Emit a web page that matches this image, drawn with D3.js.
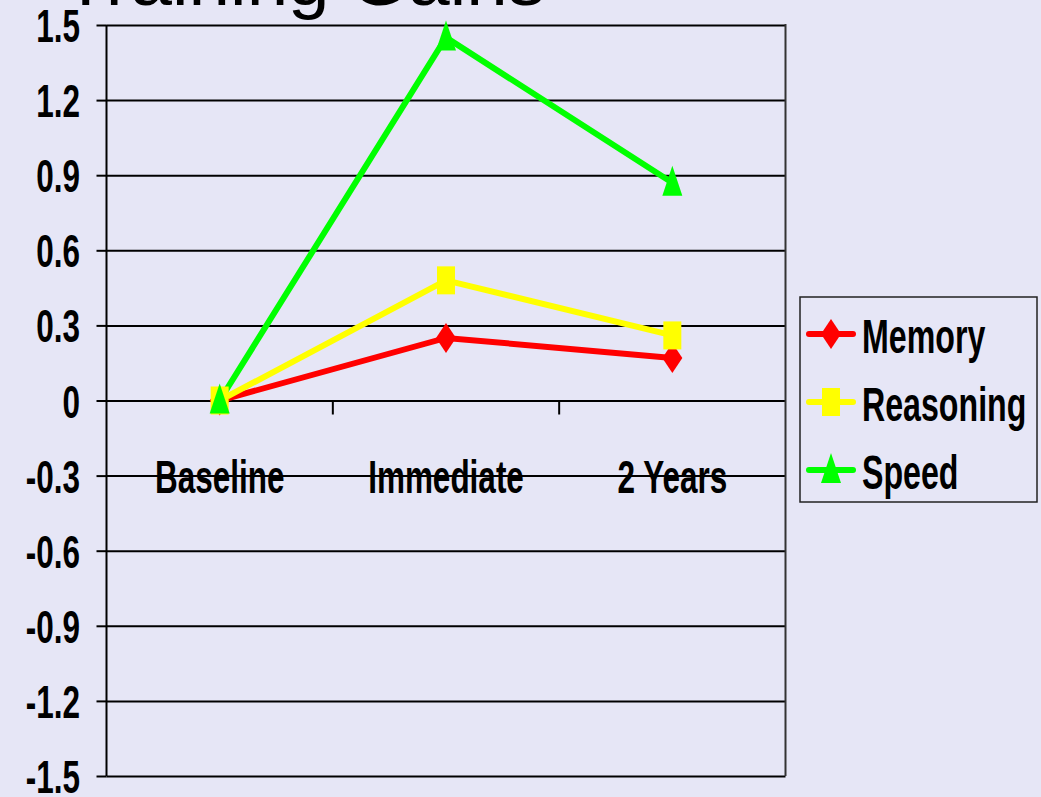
<!DOCTYPE html>
<html>
<head>
<meta charset="utf-8">
<script src="https://cdn.jsdelivr.net/npm/d3@7"></script>
<style>
  html, body { margin: 0; padding: 0; background: #e6e6f6; }
  svg { display: block; }
</style>
</head>
<body>
<svg id="chart" width="1041" height="797"></svg>
<script>
// ---- data ----
const title = "Training Gains";
const categories = ["Baseline", "Immediate", "2 Years"];
const seriesNames = ["Memory", "Reasoning", "Speed"];
const memoryValues = [0, 0.25, 0.17];
const reasoningValues = [0, 0.48, 0.26];
const speedValues = [0, 1.45, 0.87];
const yTicks = [1.5, 1.2, 0.9, 0.6, 0.3, 0, -0.3, -0.6, -0.9, -1.2, -1.5];
const yTickLabels = ["1.5", "1.2", "0.9", "0.6", "0.3", "0", "-0.3", "-0.6", "-0.9", "-1.2", "-1.5"];

const seriesColors = ["#ff0000", "#ffff00", "#00ff00"];
const seriesMarkers = ["diamond", "square", "triangle"];
const seriesData = [memoryValues, reasoningValues, speedValues];

// ---- layout ----
const svg = d3.select("#chart");
const W = 1041, H = 797;
const plot = { left: 106.5, right: 785.5, top: 25, bottom: 776 };
const SX = 0.67; // horizontal condensation of the bold labels
const FONT = "'Liberation Sans', Arial, sans-serif";

svg.append("rect").attr("width", W).attr("height", H).attr("fill", "#e6e6f6");

const x = d3.scaleBand().domain(categories).range([plot.left, plot.right]).padding(0);
const y = d3.scaleLinear().domain([-1.5, 1.5]).range([plot.bottom, plot.top]);

// title (cropped at top)
svg.append("text")
  .attr("x", 63).attr("y", 5)
  .attr("font-family", FONT).attr("font-size", 72)
  .attr("textLength", 482).attr("lengthAdjust", "spacingAndGlyphs")
  .attr("fill", "#000").text(title);

// gridlines with left tick extension
const yAxis = d3.axisLeft(y).tickValues(yTicks)
  .tickSize(-(plot.right - plot.left)).tickSizeOuter(0)
  .tickFormat("");
const gy = svg.append("g").attr("transform", `translate(${plot.left},0)`).call(yAxis);
gy.select(".domain").remove();
gy.selectAll(".tick line").attr("stroke", "#000").attr("stroke-width", 2);
gy.selectAll(".tick").append("line")
  .attr("x1", -10).attr("x2", 0).attr("stroke", "#000").attr("stroke-width", 2);

// y tick labels (condensed bold)
svg.append("g").selectAll("text").data(yTicks).join("text")
  .attr("transform", (d) => `translate(80,${y(d) + 17}) scale(${SX},1)`)
  .attr("text-anchor", "end")
  .attr("font-family", FONT).attr("font-weight", "bold").attr("font-size", 47)
  .attr("fill", "#000")
  .text((d, i) => yTickLabels[i]);

// left axis line and right border
svg.append("line").attr("x1", plot.left).attr("x2", plot.left)
  .attr("y1", plot.top).attr("y2", plot.bottom).attr("stroke", "#000").attr("stroke-width", 2);
svg.append("line").attr("x1", plot.right).attr("x2", plot.right)
  .attr("y1", plot.top - 1).attr("y2", plot.bottom).attr("stroke", "#333").attr("stroke-width", 2);

// x axis ticks on zero line
const xAxis = d3.axisBottom(x).tickSize(0).tickFormat("");
const gx = svg.append("g").attr("transform", `translate(0,${y(0)})`).call(xAxis);
gx.select(".domain").remove();
const boundaries = categories.slice(1).map((c) => x(c));
svg.append("g").selectAll("line").data(boundaries).join("line")
  .attr("x1", (d) => d).attr("x2", (d) => d)
  .attr("y1", y(0)).attr("y2", y(0) + 14)
  .attr("stroke", "#000").attr("stroke-width", 2);

// category labels
svg.append("g").selectAll("text").data(categories).join("text")
  .attr("transform", (d) => `translate(${x(d) + x.bandwidth() / 2},${y(0) + 92}) scale(${SX},1)`)
  .attr("text-anchor", "middle")
  .attr("font-family", FONT).attr("font-weight", "bold").attr("font-size", 47)
  .attr("fill", "#000")
  .text((d) => d);

// marker shapes
function markerPath(type) {
  if (type === "diamond") return "M0,-15 L10,0 L0,15 L-10,0 Z";
  if (type === "square") return "M-9,-14 L9,-14 L9,14 L-9,14 Z";
  return "M0,-17 L10,13 L-10,13 Z";
}

const line = d3.line()
  .x((d, i) => x(categories[i]) + x.bandwidth() / 2)
  .y((d) => y(d));

seriesData.forEach((vals, s) => {
  svg.append("path").datum(vals)
    .attr("d", line)
    .attr("fill", "none")
    .attr("stroke", seriesColors[s])
    .attr("stroke-width", 6)
    .attr("stroke-linejoin", "miter");
});
seriesData.forEach((vals, s) => {
  svg.append("g").selectAll("path").data(vals).join("path")
    .attr("transform", (d, i) => `translate(${x(categories[i]) + x.bandwidth() / 2},${y(d)})`)
    .attr("d", markerPath(seriesMarkers[s]))
    .attr("fill", seriesColors[s]);
});

// legend
const legend = svg.append("g");
legend.append("rect")
  .attr("x", 800).attr("y", 297).attr("width", 237).attr("height", 205)
  .attr("fill", "#e6e6f6").attr("stroke", "#222").attr("stroke-width", 1.5);
const ly = d3.scalePoint().domain(seriesNames).range([334, 470]);
const items = legend.selectAll("g.item").data(seriesNames).join("g")
  .attr("class", "item")
  .attr("transform", (d) => `translate(0,${ly(d)})`);
items.append("line")
  .attr("x1", 809).attr("x2", 853).attr("y1", 0).attr("y2", 0)
  .attr("stroke", (d, i) => seriesColors[i]).attr("stroke-width", 6)
  .attr("stroke-linecap", "round");
items.append("path")
  .attr("transform", "translate(831,0)")
  .attr("d", (d, i) => markerPath(seriesMarkers[i]))
  .attr("fill", (d, i) => seriesColors[i]);
items.append("text")
  .attr("transform", `translate(862,19) scale(${SX},1)`)
  .attr("font-family", FONT).attr("font-weight", "bold").attr("font-size", 48)
  .attr("fill", "#000")
  .text((d) => d);
</script>
</body>
</html>
